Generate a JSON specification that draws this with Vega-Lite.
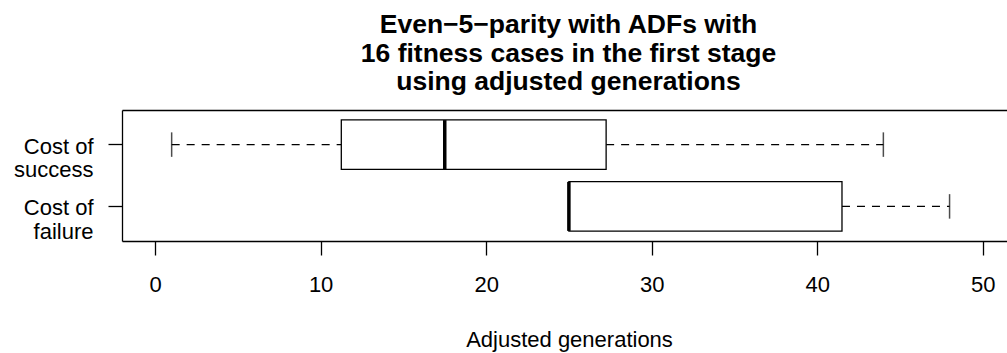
{
  "$schema": "https://vega.github.io/schema/vega-lite/v6.json",
  "autosize": {"type": "none"},
  "padding": {"left": 122, "top": 110, "right": 0, "bottom": 112},
  "width": 885,
  "height": 131,
  "background": "white",
  "config": {
    "view": {"stroke": null},
    "font": "Liberation Sans",
    "axis": {"grid": false, "domainColor": "black", "tickColor": "black", "labelColor": "black", "titleColor": "black", "domainWidth": 1.3, "tickWidth": 1.3}
  },
  "title": {
    "text": ["Even\u22125\u2212parity with ADFs with", "16 fitness cases in the first stage", "using adjusted generations"],
    "font": "Liberation Sans",
    "fontSize": 26.5,
    "fontWeight": "bold",
    "color": "black",
    "lineHeight": 28.8,
    "anchor": "middle",
    "baseline": "bottom",
    "offset": -13,
    "dx": 4
  },
  "data": {
    "values": [
      {"group": "Cost of success", "lower": 1, "q1": 11.25, "median": 17.5, "q3": 27.25, "upper": 44},
      {"group": "Cost of failure", "lower": 25, "q1": 25, "median": 25, "q3": 41.5, "upper": 48}
    ]
  },
  "resolve": {"axis": {"x": "independent"}},
  "layer": [
    {
      "mark": {"type": "rule", "strokeDash": [8, 7], "strokeWidth": 1.3, "color": "black"},
      "encoding": {
        "x": {"field": "lower", "type": "quantitative",
          "scale": {"domain": [-2, 51.47], "nice": false, "zero": false},
          "axis": {"orient": "bottom", "values": [0, 10, 20, 30, 40, 50], "tickSize": 14, "labelPadding": 19, "labelFontSize": 22, "labelFlush": false, "title": "Adjusted generations", "titleFontSize": 22, "titleFontWeight": "normal", "titleY": 105.7, "titleX": 447, "titleBaseline": "alphabetic"}},
        "x2": {"field": "q1"},
        "y": {"field": "group", "type": "nominal", "sort": ["Cost of success", "Cost of failure"],
          "scale": {"paddingInner": 0, "paddingOuter": 0.06},
          "axis": {"title": null, "tickSize": 14, "labelPadding": 15, "labelFontSize": 22, "labelLineHeight": 23.5, "labelBaseline": "middle", "labelOffset": 2, "labelAlign": "right",
            "labelExpr": "datum.value == 'Cost of success' ? ['Cost of', 'success'] : ['Cost of', 'failure']"}}
      }
    },
    {
      "mark": {"type": "rule", "strokeDash": [8, 7], "strokeWidth": 1.3, "color": "black"},
      "encoding": {
        "x": {"field": "q3", "type": "quantitative", "axis": {"orient": "top", "labels": false, "ticks": false, "title": null, "domain": true}},
        "x2": {"field": "upper"},
        "y": {"field": "group", "type": "nominal", "sort": ["Cost of success", "Cost of failure"]}
      }
    },
    {
      "mark": {"type": "tick", "orient": "vertical", "size": 24.5, "thickness": 1.5, "color": "black"},
      "encoding": {
        "x": {"field": "lower", "type": "quantitative", "axis": null},
        "y": {"field": "group", "type": "nominal", "sort": ["Cost of success", "Cost of failure"]}
      }
    },
    {
      "mark": {"type": "tick", "orient": "vertical", "size": 24.5, "thickness": 1.5, "color": "black"},
      "encoding": {
        "x": {"field": "upper", "type": "quantitative", "axis": null},
        "y": {"field": "group", "type": "nominal", "sort": ["Cost of success", "Cost of failure"]}
      }
    },
    {
      "mark": {"type": "bar", "fill": "white", "stroke": "black", "strokeWidth": 1.3, "height": {"band": 0.8}},
      "encoding": {
        "x": {"field": "q1", "type": "quantitative", "axis": null},
        "x2": {"field": "q3"},
        "y": {"field": "group", "type": "nominal", "sort": ["Cost of success", "Cost of failure"]}
      }
    },
    {
      "mark": {"type": "tick", "orient": "vertical", "size": 49, "thickness": 3.5, "color": "black", "opacity": 1},
      "encoding": {
        "x": {"field": "median", "type": "quantitative", "axis": null},
        "y": {"field": "group", "type": "nominal", "sort": ["Cost of success", "Cost of failure"]}
      }
    }
  ]
}
